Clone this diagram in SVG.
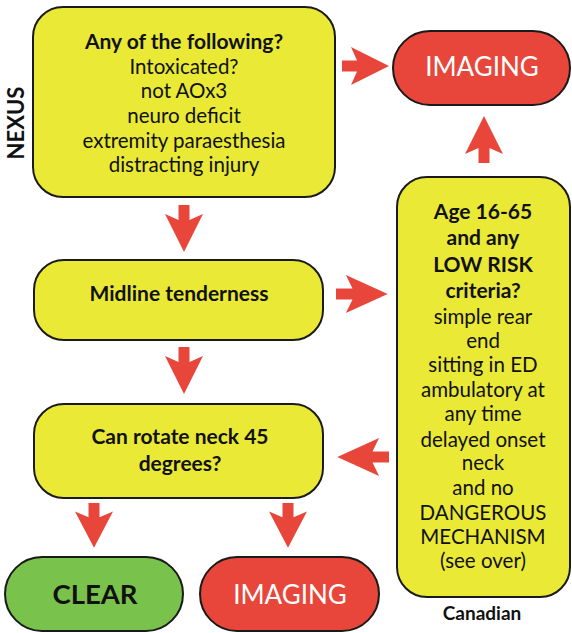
<svg xmlns="http://www.w3.org/2000/svg" xmlns:xlink="http://www.w3.org/1999/xlink" width="572" height="633" viewBox="0 0 572 633">
<style>
.box{stroke:#1a1a1a;stroke-width:2}
.y{fill:#E9E936}
.r{fill:#E8463A}
.g{fill:#79C24C}
text{font-family:Lato,"Open Sans","Liberation Sans",sans-serif;text-anchor:middle;fill:#111}
.b{font-weight:bold}
.t{font-size:20.5px}
.bt{font-size:21px;font-weight:bold}
.big{font-size:26px}
.w{fill:#fff}
.arr{fill:#E8463A}
</style>
<defs>
<path id="arr" d="M-5.5,0 H5.5 V15 L19,9 L0,47 L-19,9 L-5.5,15 Z"/>
</defs>
<rect width="572" height="633" fill="#fff"/>
<g id="connectors" class="arr">
<use xlink:href="#arr" transform="translate(184,205)"/>
<use xlink:href="#arr" transform="translate(184,347)"/>
<use xlink:href="#arr" transform="translate(94,503) scale(1,0.95)"/>
<use xlink:href="#arr" transform="translate(288,503) scale(1,0.95)"/>
<use xlink:href="#arr" transform="translate(342,66) rotate(-90)"/>
<use xlink:href="#arr" transform="translate(336,294) rotate(-90) scale(1,1.1)"/>
<use xlink:href="#arr" transform="translate(389,457) rotate(90) scale(1,1.1)"/>
<use xlink:href="#arr" transform="translate(484,163) rotate(180)"/>
</g>
<g id="nexus-label">
<text class="b" font-size="22" transform="translate(24,123) rotate(-90)">NEXUS</text>
</g>
<g id="nexus">
<rect class="box y" x="33" y="7" width="302" height="190" rx="30"/>
<text class="bt" x="184" y="49">Any of the following?</text>
<text class="t" x="184" y="74">Intoxicated?</text>
<text class="t" x="184" y="98">not AOx3</text>
<text class="t" x="184" y="123">neuro deficit</text>
<text class="t" x="184" y="148">extremity paraesthesia</text>
<text class="t" x="184" y="172">distracting injury</text>
</g>
<g id="imaging-top">
<rect class="box r" x="393" y="31" width="177" height="74" rx="37"/>
<text class="big w" x="482" y="76">IMAGING</text>
</g>
<g id="midline">
<rect class="box y" x="34" y="260" width="289" height="80" rx="30"/>
<text class="bt" x="179" y="301">Midline tenderness</text>
</g>
<g id="rotate">
<rect class="box y" x="34" y="404" width="289" height="94" rx="30"/>
<text class="bt" x="180" y="444">Can rotate neck 45</text>
<text class="bt" x="180" y="471">degrees?</text>
</g>
<g id="canadian">
<rect class="box y" x="397" y="177" width="173" height="420" rx="30"/>
<text class="bt" x="483" y="219">Age 16-65</text>
<text class="bt" x="483" y="245">and any</text>
<text class="bt" x="483" y="272">LOW RISK</text>
<text class="bt" x="483" y="298">criteria?</text>
<text class="t" x="483" y="324">simple rear</text>
<text class="t" x="483" y="348">end</text>
<text class="t" x="483" y="372">sitting in ED</text>
<text class="t" x="483" y="397">ambulatory at</text>
<text class="t" x="483" y="421">any time</text>
<text class="t" x="483" y="447">delayed onset</text>
<text class="t" x="483" y="470">neck</text>
<text class="t" x="483" y="495">and no</text>
<text class="t" x="483" y="520">DANGEROUS</text>
<text class="t" x="483" y="544">MECHANISM</text>
<text class="t" x="483" y="568">(see over)</text>
</g>
<g id="canadian-label">
<text class="b" font-size="19" x="482" y="620">Canadian</text>
</g>
<g id="clear">
<rect class="box g" x="5" y="557" width="178" height="74" rx="37"/>
<text class="b" font-size="27.5" x="95" y="604">CLEAR</text>
</g>
<g id="imaging-bottom">
<rect class="box r" x="200" y="557" width="179" height="74" rx="37"/>
<text class="big w" x="290" y="604">IMAGING</text>
</g>
</svg>
